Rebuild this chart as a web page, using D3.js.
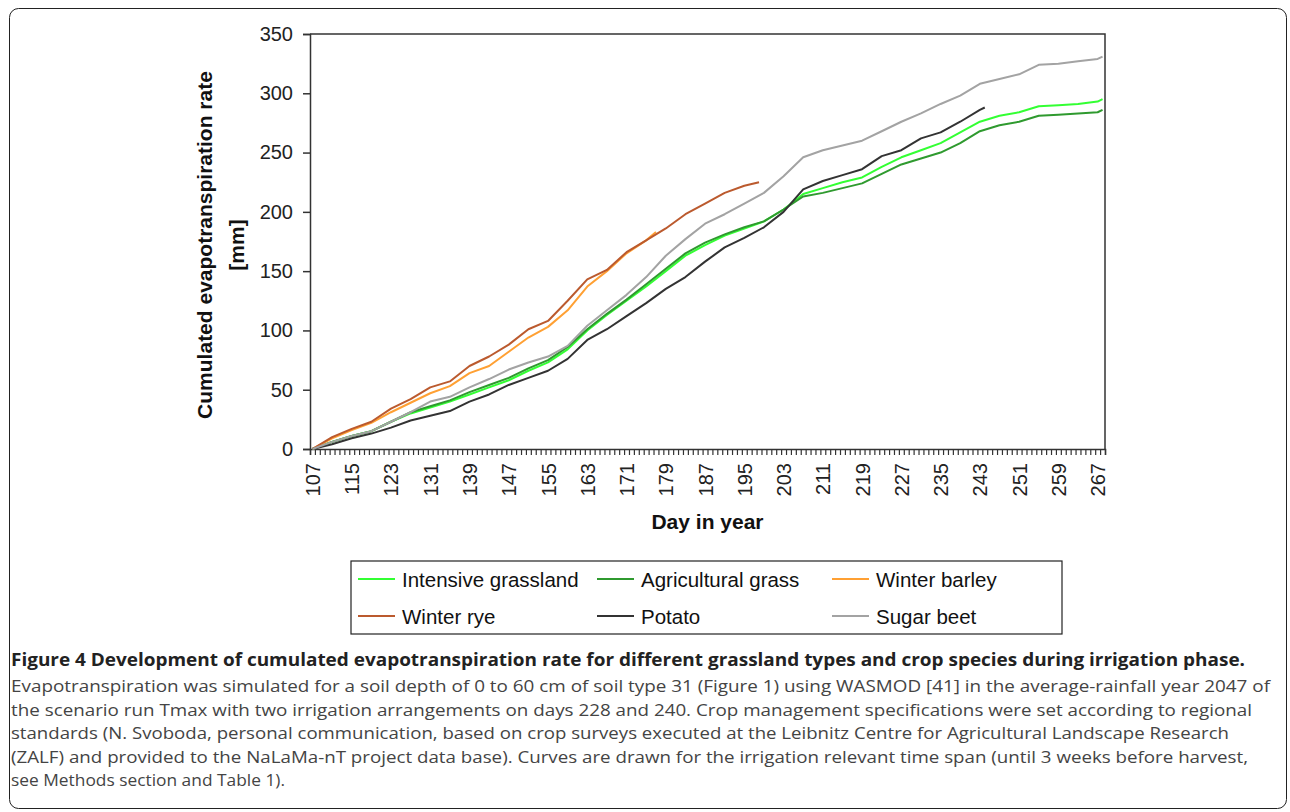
<!DOCTYPE html>
<html><head><meta charset="utf-8">
<script src="https://cdn.jsdelivr.net/npm/d3@7"></script>
<style>
html,body{margin:0;padding:0;background:#fff;}
svg{display:block;}
</style></head>
<body>
<svg id="chart" width="1290" height="812"></svg>
<script>
// ---- data ----
const sampleDays = [107,111,115,119,123,127,131,135,139,143,147,151,155,159,163,167,171,175,179,183,187,191,195,199,203,207,211,215,219,223,227,231,235,239,243,247,251,255,259,263,267,268];
const intensiveGrassland = [0,6,11,15,23,30,35,40,46,52,58,66,73,84,100,113,125,137,150,163,172,180,186,192,202,215,220,225,229,238,246,252,258,267,276,281,284,289,290,291,293,295];
const agriculturalGrass = [0,6,11,15,23,31,36,41,48,54,60,68,75,86,101,114,126,139,152,165,174,181,187,192,202,213,216,220,224,232,240,245,250,258,268,273,276,281,282,283,284,286];
const barleyDays = [107,111,115,119,123,127,131,135,139,143,147,151,155,159,163,167,171,175,177];
const winterBarley = [0,9,16,22,31,39,47,53,64,70,82,94,103,117,137,150,165,176,183];
const ryeDays = [107,111,115,119,123,127,131,135,139,143,147,151,155,159,163,167,171,175,179,183,187,191,195,198];
const winterRye = [0,10,17,23,34,42,52,57,70,78,88,101,108,125,143,151,166,176,186,198,207,216,222,225];
const potatoDays = [107,111,115,119,123,127,131,135,139,143,147,151,155,159,163,167,171,175,179,183,187,191,195,199,203,207,211,215,219,223,227,231,235,239,243,244];
const potato = [0,4,9,13,18,24,28,32,40,46,54,60,66,76,92,101,112,123,135,145,158,170,178,187,200,219,226,231,236,247,252,262,267,276,286,288];
const sugarBeet = [0,6,11,15,23,31,40,44,52,59,67,73,78,87,104,117,130,145,163,177,190,198,207,216,230,246,252,256,260,268,276,283,291,298,308,312,316,324,325,327,329,331];

const seriesNames = ["Intensive grassland","Agricultural grass","Winter barley","Winter rye","Potato","Sugar beet"];
const seriesColors = ["#33ff33","#2f9a2f","#ffa033","#bb5a2e","#333333","#a3a3a3"];
const yTicks = [0,50,100,150,200,250,300,350];
const firstDay = 107, lastDay = 268;
const xTitle = "Day in year";
const yTitle1 = "Cumulated evapotranspiration rate";
const yTitle2 = "[mm]";
const captionTitle = "Figure 4 Development of cumulated evapotranspiration rate for different grassland types and crop species during irrigation phase.";
const captionLines = [
 "Evapotranspiration was simulated for a soil depth of 0 to 60 cm of soil type 31 (Figure 1) using WASMOD [41] in the average-rainfall year 2047 of",
 "the scenario run Tmax with two irrigation arrangements on days 228 and 240. Crop management specifications were set according to regional",
 "standards (N. Svoboda, personal communication, based on crop surveys executed at the Leibnitz Centre for Agricultural Landscape Research",
 "(ZALF) and provided to the NaLaMa-nT project data base). Curves are drawn for the irrigation relevant time span (until 3 weeks before harvest,",
 "see Methods section and Table 1)."
];

const seriesData = [
  {days: sampleDays, vals: intensiveGrassland},
  {days: sampleDays, vals: agriculturalGrass},
  {days: barleyDays, vals: winterBarley},
  {days: ryeDays, vals: winterRye},
  {days: potatoDays, vals: potato},
  {days: sampleDays, vals: sugarBeet}
].map((s,i)=>({name: seriesNames[i], color: seriesColors[i], pts: s.days.map((d,j)=>({d, v: s.vals[j]}))}));

// ---- layout ----
const svg = d3.select("#chart");
const L = 310, R = 1105, T = 34, B = 449;
const x = d3.scaleLinear().domain([firstDay-0.5, lastDay+0.5]).range([L, R]);
const y = d3.scaleLinear().domain([0, 350]).range([B, T]);
const chartFont = "'Liberation Sans', Arial, sans-serif";

// outer frame
svg.append("rect").attr("x",9.5).attr("y",8.5).attr("width",1277).attr("height",800)
  .attr("rx",9).attr("fill","none").attr("stroke","#222").attr("stroke-width",1);

// plot area border (top & right)
svg.append("path").attr("d",`M${L},${T}H${R}V${B}`).attr("fill","none").attr("stroke","#333").attr("stroke-width",1.5);

// y axis
const yAxis = svg.append("g").attr("transform",`translate(${L},0)`)
  .call(d3.axisLeft(y).tickValues(yTicks).tickSize(7).tickPadding(10).tickFormat(d3.format("d")));
yAxis.select(".domain").attr("stroke","#333").attr("stroke-width",1.5);
yAxis.selectAll(".tick line").attr("stroke","#333").attr("stroke-width",1.5);
yAxis.selectAll("text").attr("font-family",chartFont).attr("font-size","20px").attr("fill","#222");

// x axis: tick marks at category boundaries
const boundaries = d3.range(firstDay-0.5, lastDay+1, 1);
const xAxisTicks = svg.append("g").attr("transform",`translate(0,${B})`)
  .call(d3.axisBottom(x).tickValues(boundaries).tickSize(6).tickFormat(""));
xAxisTicks.select(".domain").attr("stroke","#333").attr("stroke-width",1.5);
xAxisTicks.selectAll(".tick line").attr("stroke","#333").attr("stroke-width",1.2);

// x labels every 8 days, rotated
const labelDays = d3.range(firstDay, lastDay, 8);
const xAxisLabels = svg.append("g").attr("transform",`translate(0,${B})`)
  .call(d3.axisBottom(x).tickValues(labelDays).tickSize(0).tickPadding(0).tickFormat(d3.format("d")));
xAxisLabels.select(".domain").remove();
xAxisLabels.selectAll("text")
  .attr("font-family",chartFont).attr("font-size","20px").attr("fill","#222")
  .attr("text-anchor","end").attr("dy",null).attr("y",null)
  .attr("transform","translate(0,14) rotate(-90)")
  .attr("dominant-baseline","central");

// titles
svg.append("text").attr("x",(L+R)/2).attr("y",529).attr("text-anchor","middle")
  .attr("font-family",chartFont).attr("font-weight","bold").attr("font-size","21px").attr("fill","#111").text(xTitle);
svg.append("text").attr("transform","translate(212,245) rotate(-90)").attr("text-anchor","middle")
  .attr("font-family",chartFont).attr("font-weight","bold").attr("font-size","21px").attr("fill","#111").text(yTitle1);
svg.append("text").attr("transform","translate(244,245) rotate(-90)").attr("text-anchor","middle")
  .attr("font-family",chartFont).attr("font-weight","bold").attr("font-size","21px").attr("fill","#111").text(yTitle2);

// lines
const line = d3.line().x(p=>x(p.d)).y(p=>y(p.v));
svg.append("g").selectAll("path").data(seriesData).join("path")
  .attr("d",s=>line(s.pts)).attr("fill","none").attr("stroke",s=>s.color)
  .attr("stroke-width",2).attr("stroke-linejoin","round");

// legend
const lg = svg.append("g");
lg.append("rect").attr("x",351).attr("y",561).attr("width",711).attr("height",73)
  .attr("fill","#fff").attr("stroke","#222").attr("stroke-width",1.2);
const legendPos = [[358,579],[597,579],[832,579],[358,616],[597,616],[832,616]];
seriesData.forEach((s,i)=>{
  const [lx,ly] = legendPos[i];
  lg.append("line").attr("x1",lx).attr("x2",lx+37).attr("y1",ly).attr("y2",ly).attr("stroke",s.color).attr("stroke-width",2);
  lg.append("text").attr("x",lx+44).attr("y",ly).attr("dominant-baseline","central")
    .attr("font-family",chartFont).attr("font-size","20.5px").attr("fill","#111").text(s.name);
});

// caption
const capFont = "'Open Sans', 'Noto Sans', sans-serif";
svg.append("text").attr("x",11).attr("y",666).attr("font-family",capFont).attr("font-weight","bold")
  .attr("font-size","17.5px").attr("fill","#222").attr("textLength",1234).attr("lengthAdjust","spacingAndGlyphs").text(captionTitle);
const capEnds = [1270,1252,1229,1248,285];
const capBase = [692,716,739,763,786];
captionLines.forEach((t,i)=>{
  svg.append("text").attr("x",11).attr("y",capBase[i]).attr("font-family",capFont)
    .attr("font-size","17px").attr("fill","#444").attr("textLength",capEnds[i]-11).attr("lengthAdjust","spacingAndGlyphs").text(t);
});
</script>
</body></html>
